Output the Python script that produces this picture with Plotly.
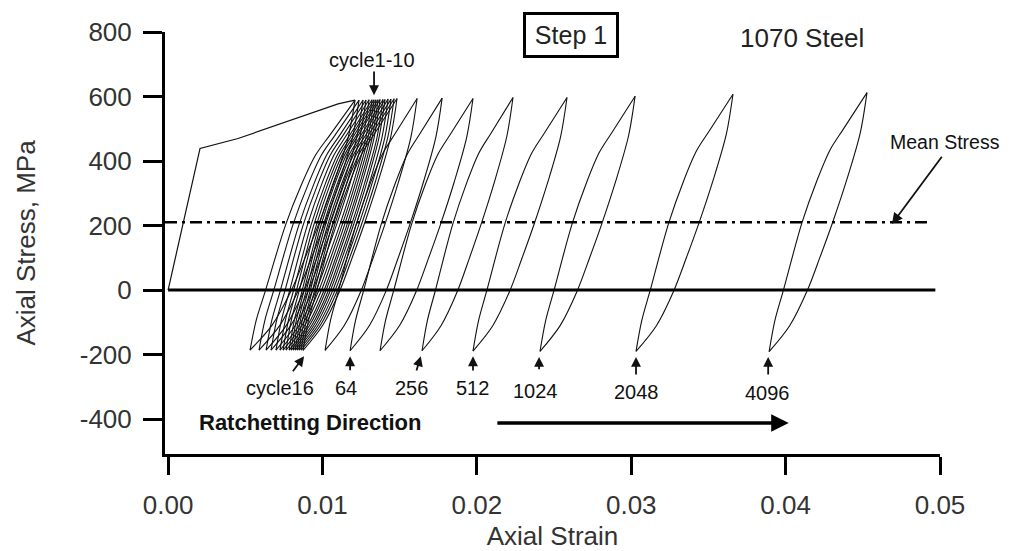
import plotly.graph_objects as go

# ---------------- data ----------------
# initial monotonic loading path (strain, stress MPa)
initial_strain = [0.0, 0.00207, 0.00453, 0.00668, 0.00885, 0.01101, 0.01166, 0.01211]
initial_stress = [0, 439, 470, 506, 542, 577, 584, 589]

# recorded hysteresis loops: cycle number, strain at min/max tips, stress at tips
loop_cycle = [1, 2, 3, 4, 5, 6, 7, 8, 9, 10, 11, 12, 13, 14, 15, 16,
              32, 64, 128, 256, 512, 1024, 2048, 4096]
loop_min_strain = [0.00531, 0.00589, 0.00635, 0.00667, 0.00699, 0.00725, 0.00745, 0.00764,
                   0.00784, 0.00797, 0.00810, 0.00823, 0.00835, 0.00848, 0.00861, 0.00874,
                   0.01017, 0.01179, 0.01373, 0.01645, 0.01975, 0.02409, 0.03031, 0.03893]
loop_max_strain = [0.01211, 0.01237, 0.01263, 0.01282, 0.01302, 0.01321, 0.01334, 0.01347,
                   0.01360, 0.01373, 0.01392, 0.01405, 0.01425, 0.01444, 0.01464, 0.01483,
                   0.01613, 0.01775, 0.01975, 0.02234, 0.02584, 0.03025, 0.03659, 0.04527]
loop_min_stress = [-186, -186, -186, -186, -186, -186, -186, -186,
                   -186, -186, -186, -186, -186, -186, -186, -187,
                   -187, -188, -188, -188, -189, -190, -190, -191]
loop_max_stress = [589, 589, 589, 589, 590, 590, 590, 590,
                   590, 591, 591, 591, 592, 592, 593, 594,
                   594, 595, 594, 597, 597, 601, 607, 612]

load_u = [0.0, 0.059, 0.145, 0.336, 0.49, 0.624, 0.76, 1.0]
load_v = [0.0, 0.12, 0.236, 0.498, 0.662, 0.780, 0.86, 1.0]
unload_u = [1.0, 0.932, 0.797, 0.648, 0.52, 0.39, 0.21, 0.0]
unload_v = [1.0, 0.846, 0.668, 0.498, 0.365, 0.236, 0.1, 0.0]

mean_stress = 210
mean_line_strain = [-0.0002, 0.0493]
zero_line_strain = [0.0, 0.0497]

# cycle labels below the loops
label_text = ["cycle16", "64", "256", "512", "1024", "2048", "4096"]
label_x = [0.00725, 0.01153, 0.01574, 0.01969, 0.02377, 0.03031, 0.03880]
label_y = [-304, -304, -304, -304, -313, -316, -319]
label_tip_x = [0.00881, 0.01179, 0.01637, 0.01975, 0.02403, 0.03031, 0.03887]
label_tip_y = [-205, -205, -205, -205, -207, -207, -207]
label_tail_x = [0.00801, 0.01179, 0.01606, 0.01975, 0.02403, 0.03031, 0.03887]
label_tail_y = [-256, -253, -254, -254, -250, -266, -266]

x_ticks = [0.0, 0.01, 0.02, 0.03, 0.04, 0.05]
x_ticktext = ["0.00", "0.01", "0.02", "0.03", "0.04", "0.05"]
y_ticks = [-400, -200, 0, 200, 400, 600, 800]
y_ticktext = ["-400", "-200", "0", "200", "400", "600", "800"]

FONT = "Liberation Sans, Arial, sans-serif"
LOOP_COLOR = "#111111"

fig = go.Figure()

# hysteresis loops (unloading branch then reloading branch, each smoothed)
lx, ly = [], []
for emin, emax, smin, smax in zip(loop_min_strain, loop_max_strain,
                                  loop_min_stress, loop_max_stress):
    w = emax - emin
    h = smax - smin
    lx += [emin + u * w for u in unload_u] + [None]
    ly += [smin + v * h for v in unload_v] + [None]
    lx += [emin + u * w for u in load_u] + [None]
    ly += [smin + v * h for v in load_v] + [None]

fig.add_trace(go.Scatter(x=lx, y=ly, mode="lines", connectgaps=False,
                         line=dict(color=LOOP_COLOR, width=1.1, shape="spline", smoothing=0.9),
                         hoverinfo="skip", showlegend=False))

# initial loading
fig.add_trace(go.Scatter(x=initial_strain, y=initial_stress, mode="lines",
                         line=dict(color=LOOP_COLOR, width=1.2),
                         showlegend=False))

# zero stress line
fig.add_trace(go.Scatter(x=zero_line_strain, y=[0, 0], mode="lines",
                         line=dict(color="black", width=3), showlegend=False))

# mean stress line (dash-dot)
fig.add_trace(go.Scatter(x=mean_line_strain, y=[mean_stress, mean_stress], mode="lines",
                         line=dict(color="black", width=2.5, dash="12px,5px,3px,5px"),
                         showlegend=False))

annotations = []
# cycle labels with arrows
for t, x, y, tx, ty, ax, ay in zip(label_text, label_x, label_y, label_tip_x,
                                   label_tip_y, label_tail_x, label_tail_y):
    annotations.append(dict(x=x, y=y, xref="x", yref="y", text=t, showarrow=False,
                            font=dict(family=FONT, size=20, color="#111")))
    annotations.append(dict(x=tx, y=ty, ax=ax, ay=ay, xref="x", yref="y",
                            axref="x", ayref="y", text="", showarrow=True,
                            arrowhead=2, arrowsize=1.1, arrowwidth=1.8, arrowcolor="#111"))

# cycle1-10
annotations.append(dict(x=0.01321, y=713, xref="x", yref="y", text="cycle1-10",
                        showarrow=False, font=dict(family=FONT, size=20, color="#111")))
annotations.append(dict(x=0.01334, y=604, ax=0.01334, ay=682, xref="x", yref="y",
                        axref="x", ayref="y", text="", showarrow=True,
                        arrowhead=2, arrowsize=1.1, arrowwidth=1.8, arrowcolor="#111"))

# Ratchetting direction
annotations.append(dict(x=0.00188, y=-409, xref="x", yref="y", xanchor="left",
                        text="<b>Ratchetting Direction</b>", showarrow=False,
                        font=dict(family=FONT, size=22, color="#111")))
annotations.append(dict(x=0.0402, y=-412, ax=0.02123, ay=-412, xref="x", yref="y",
                        axref="x", ayref="y", text="", showarrow=True,
                        arrowhead=2, arrowsize=1.0, arrowwidth=3.5, arrowcolor="black"))

# Mean stress
annotations.append(dict(x=1.08, y=459, xref="paper", yref="y", xanchor="right",
                        text="Mean Stress", showarrow=False,
                        font=dict(family=FONT, size=19.5, color="#111")))
annotations.append(dict(x=0.04689, y=205, ax=0.05019, ay=418, xref="x", yref="y",
                        axref="x", ayref="y", text="", showarrow=True,
                        arrowhead=2, arrowsize=1.2, arrowwidth=1.8, arrowcolor="#111"))

# Step 1 box and material
annotations.append(dict(x=0.524, y=0.994, xref="paper", yref="paper",
                        xanchor="center", yanchor="middle", text="Step 1",
                        showarrow=False, width=90, height=40,
                        bordercolor="black", borderwidth=3, borderpad=0,
                        font=dict(family=FONT, size=25, color="#222")))
annotations.append(dict(x=0.822, y=0.986, xref="paper", yref="paper",
                        xanchor="center", yanchor="middle", text="1070 Steel",
                        showarrow=False, font=dict(family=FONT, size=26, color="#222")))

# the page body adds an 8px margin, so the figure is offset by 8px
fig.update_layout(
    width=995, height=543,
    margin=dict(l=157, r=63, t=24, b=97),
    paper_bgcolor="white", plot_bgcolor="white",
    showlegend=False,
    annotations=annotations,
    font=dict(family=FONT, size=26, color="#333"),
)

fig.update_xaxes(
    range=[-0.0002, 0.05], tickvals=x_ticks, ticktext=x_ticktext,
    showline=True, linewidth=3, linecolor="black", mirror=False,
    ticks="outside", ticklen=18, tickwidth=3, tickcolor="black",
    showgrid=False, zeroline=False, automargin=False,
    tickfont=dict(family=FONT, size=26, color="#333"),
    ticklabelstandoff=8,
    title=dict(text="Axial Strain", font=dict(family=FONT, size=26, color="#333"), standoff=10),
)
fig.update_yaxes(
    range=[-508, 800], tickvals=y_ticks, ticktext=y_ticktext,
    showline=True, linewidth=3, linecolor="black", mirror=False,
    ticks="outside", ticklen=19, tickwidth=3, tickcolor="black",
    showgrid=False, zeroline=False, automargin=False,
    tickfont=dict(family=FONT, size=26, color="#333"),
    ticklabelstandoff=6,
    title=dict(text="Axial Stress, MPa", font=dict(family=FONT, size=26, color="#333"), standoff=37),
)

fig.write_html("out.html")
